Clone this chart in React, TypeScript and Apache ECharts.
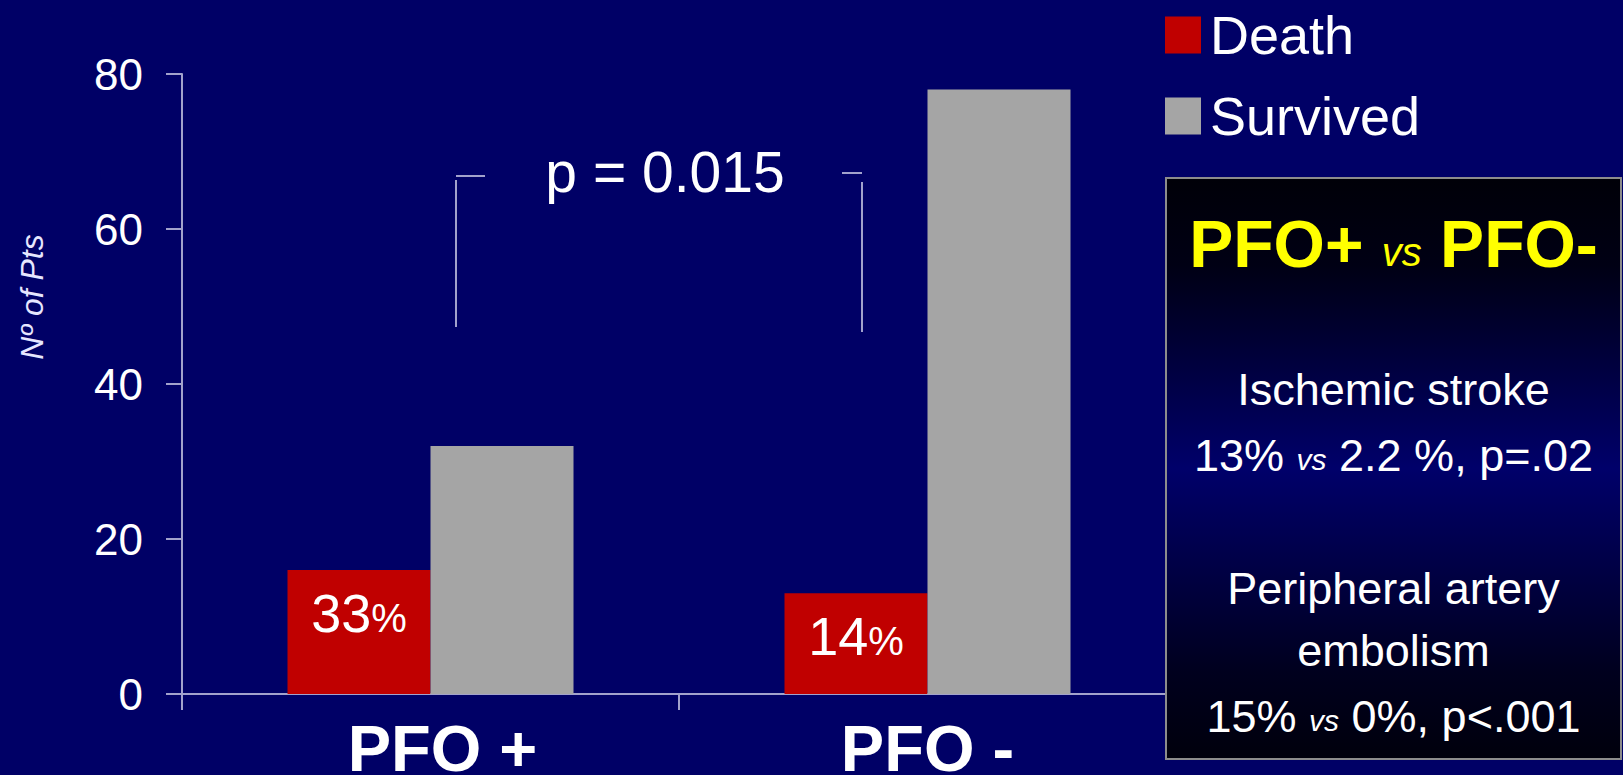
import React, { useEffect, useRef } from 'react';
import * as echarts from 'echarts';

// Patients by PFO status and outcome
const categories = ['PFO +', 'PFO -'];
const deathCounts = [16, 13];
const survivedCounts = [32, 78];
const seriesNames = ['Death', 'Survived'];
const yMin = 0;
const yMax = 80;
const yStep = 20;

const WIDTH = 1623;
const HEIGHT = 775;
const FONT = "'Liberation Sans', Arial, Helvetica, sans-serif";
const BG = '#000066';
const AXIS = '#a2a2cc';
const RED = '#c00000';
const GREY = '#a5a5a5';
const YELLOW = '#ffff00';

const deathShare = (i: number) =>
  Math.round((deathCounts[i] / (deathCounts[i] + survivedCounts[i])) * 100);

function buildOption(): echarts.EChartsOption {
  const boxX = 1166;
  const boxY = 178;
  const boxW = 455;
  const boxH = 581;
  const cx = boxX + boxW / 2;

  const vsSmall = {
    fill: '#ffffff',
    fontFamily: FONT,
    fontSize: 30,
    fontStyle: 'italic',
    verticalAlign: 'bottom',
    padding: [0, 0, 3, 0],
  };

  const boxLine = (y: number, text: string, rich?: any) => ({
    type: 'text',
    x: cx,
    y,
    z: 102,
    style: {
      text,
      fill: '#ffffff',
      fontFamily: FONT,
      fontSize: 45,
      align: 'center',
      verticalAlign: 'middle',
      rich,
    },
  });

  return {
    animation: false,
    backgroundColor: BG,
    grid: {
      left: 182,
      right: 447,
      top: 74,
      bottom: 81,
      containLabel: false,
      outerBoundsMode: 'none',
    } as any,
    legend: {
      orient: 'vertical',
      left: 1160,
      top: 3,
      icon: 'rect',
      itemWidth: 36,
      itemHeight: 37,
      itemGap: 27,
      selectedMode: false,
      data: seriesNames,
      textStyle: {
        color: '#ffffff',
        fontSize: 54,
        fontFamily: FONT,
        padding: [0, 0, 0, 4],
      },
    },
    xAxis: {
      type: 'category',
      data: categories.map((c, i) =>
        i === 0 ? { value: c, textStyle: { padding: [0, 0, 0, 24] } } : c
      ),
      axisLine: { lineStyle: { color: AXIS, width: 2 } },
      axisTick: { show: true, length: 16, lineStyle: { color: AXIS, width: 2 } },
      axisLabel: {
        color: '#ffffff',
        fontSize: 65,
        fontWeight: 'bold',
        fontFamily: FONT,
        margin: 22,
        verticalAlign: 'top',
      },
    },
    yAxis: {
      type: 'value',
      min: yMin,
      max: yMax,
      interval: yStep,
      splitLine: { show: false },
      axisLine: { show: true, lineStyle: { color: AXIS, width: 2 } },
      axisTick: { show: true, length: 16, lineStyle: { color: AXIS, width: 2 } },
      axisLabel: {
        color: '#ffffff',
        fontSize: 44,
        fontFamily: FONT,
        margin: 39,
      },
    },
    series: [
      {
        name: seriesNames[0],
        type: 'bar',
        data: deathCounts,
        barWidth: 143,
        barGap: '0%',
        itemStyle: { color: RED },
        label: {
          show: true,
          position: 'insideTop',
          distance: 16,
          formatter: (p: any) => `{n|${deathShare(p.dataIndex)}}{p|%}`,
          rich: {
            n: { fontSize: 54, color: '#ffffff', fontFamily: FONT },
            p: {
              fontSize: 40,
              color: '#ffffff',
              fontFamily: FONT,
              verticalAlign: 'bottom',
              padding: [0, 0, 2, 0],
            },
          },
        },
      },
      {
        name: seriesNames[1],
        type: 'bar',
        data: survivedCounts,
        barWidth: 143,
        barGap: '0%',
        itemStyle: { color: GREY },
      },
    ],
    graphic: [
      // y-axis title
      {
        type: 'text',
        x: 32,
        y: 297,
        rotation: Math.PI / 2,
        style: {
          text: 'Nº of Pts',
          fill: '#e6e6ff',
          fontFamily: FONT,
          fontSize: 32,
          fontStyle: 'italic',
          align: 'center',
          verticalAlign: 'middle',
        },
      },
      // significance bracket
      {
        type: 'line',
        shape: { x1: 485, y1: 176, x2: 456, y2: 176 },
        style: { stroke: AXIS, lineWidth: 2 },
      },
      {
        type: 'line',
        shape: { x1: 456, y1: 180, x2: 456, y2: 327 },
        style: { stroke: AXIS, lineWidth: 2 },
      },
      {
        type: 'line',
        shape: { x1: 842, y1: 173, x2: 862, y2: 173 },
        style: { stroke: AXIS, lineWidth: 2 },
      },
      {
        type: 'line',
        shape: { x1: 862, y1: 182, x2: 862, y2: 332 },
        style: { stroke: AXIS, lineWidth: 2 },
      },
      {
        type: 'text',
        x: 665,
        y: 172,
        style: {
          text: 'p = 0.015',
          fill: '#ffffff',
          fontFamily: FONT,
          fontSize: 57,
          align: 'center',
          verticalAlign: 'middle',
        },
      },
      // summary panel
      {
        type: 'rect',
        z: 100,
        shape: { x: boxX, y: boxY, width: boxW, height: boxH },
        style: {
          stroke: '#8c8c8c',
          lineWidth: 2,
          fill: new echarts.graphic.LinearGradient(0, 0, 0, 1, [
            { offset: 0, color: '#000008' },
            { offset: 0.15, color: '#000014' },
            { offset: 0.5, color: '#00006a' },
            { offset: 0.85, color: '#00001e' },
            { offset: 1, color: '#00000c' },
          ]),
        },
      },
      {
        type: 'text',
        x: cx,
        y: 244,
        z: 102,
        style: {
          text: '{a|PFO+} {v|vs} {a|PFO-}',
          fill: YELLOW,
          fontFamily: FONT,
          fontSize: 66,
          fontWeight: 'bold',
          align: 'center',
          verticalAlign: 'middle',
          rich: {
            a: { fill: YELLOW, fontFamily: FONT, fontSize: 66, fontWeight: 'bold' },
            v: {
              fill: YELLOW,
              fontFamily: FONT,
              fontSize: 40,
              fontStyle: 'italic',
              verticalAlign: 'bottom',
              padding: [0, 0, 5, 0],
            },
          },
        },
      },
      boxLine(389, 'Ischemic stroke'),
      boxLine(455, '13% {v|vs} 2.2 %, p=.02', { v: vsSmall }),
      boxLine(588, 'Peripheral artery'),
      boxLine(650, 'embolism'),
      boxLine(716, '15% {v|vs} 0%, p<.001', { v: vsSmall }),
    ] as any,
  };
}

export default function App() {
  const ref = useRef<HTMLDivElement>(null);

  useEffect(() => {
    document.body.style.margin = '0';
    document.body.style.overflow = 'hidden';
    const chart = echarts.init(ref.current!, null, {
      renderer: 'svg',
      width: WIDTH,
      height: HEIGHT,
    });
    chart.setOption(buildOption());
    return () => chart.dispose();
  }, []);

  return (
    <div
      ref={ref}
      style={{ position: 'fixed', left: 0, top: 0, width: WIDTH, height: HEIGHT }}
    />
  );
}
